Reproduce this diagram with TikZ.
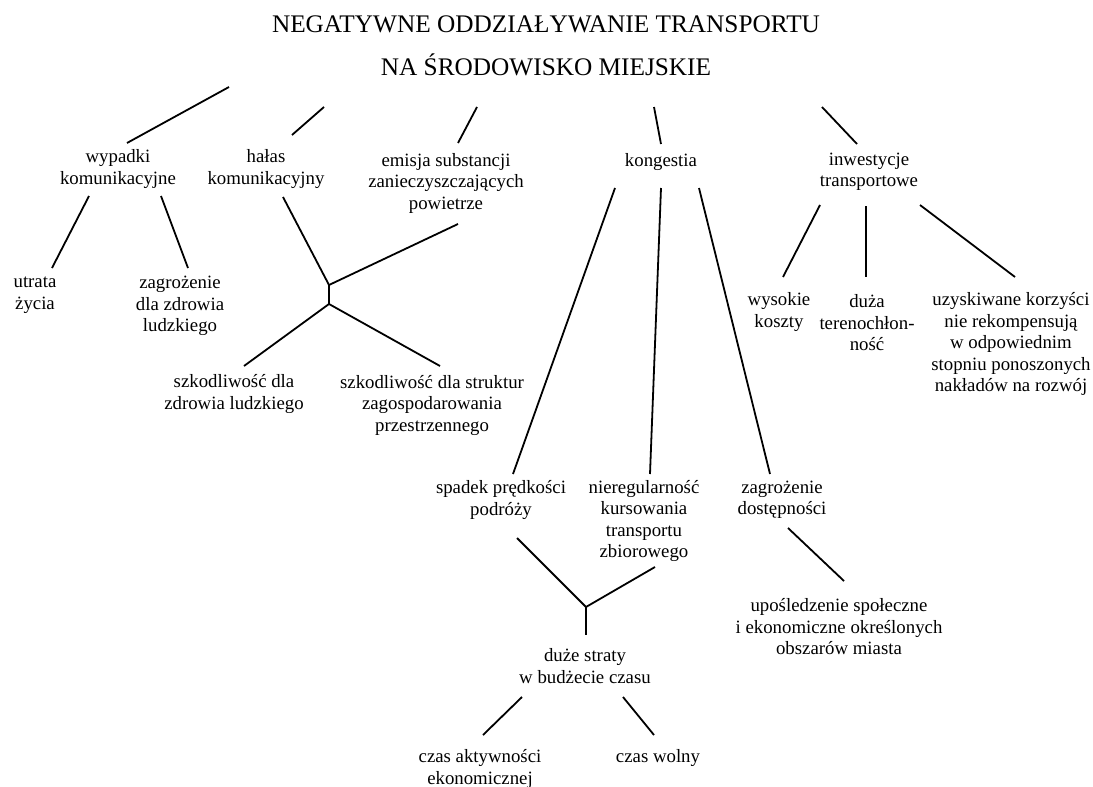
\documentclass[tikz,border=0pt]{standalone}
\usepackage{fontspec}
\setmainfont{Liberation Serif}

\begin{document}
\begin{tikzpicture}[x=1pt,y=-1pt,line width=1.8pt,
                    txt/.style={align=center,inner sep=0pt,
                                font=\fontsize{18.8}{21.5}\selectfont},
                    tytul/.style={align=center,inner sep=0pt,
                                  font=\fontsize{25.3}{43}\selectfont}]
  \useasboundingbox (0,0) rectangle (1093,787);

  \node[tytul] (tyt) at (546,46) {NEGATYWNE ODDZIAŁYWANIE TRANSPORTU\\NA ŚRODOWISKO MIEJSKIE};

  \node[txt] (wyp)  at (118,169) {wypadki\\komunikacyjne};
  \node[txt] (hal)  at (266,169) {hałas\\komunikacyjny};
  \node[txt] (emi)  at (446,183) {emisja substancji\\zanieczyszczających\\powietrze};
  \node[txt] (kon)  at (661,162) {kongestia};
  \node[txt] (inw)  at (869,172) {inwestycje\\transportowe};

  \node[txt] (utr)  at (35,295)  {utrata\\życia};
  \node[txt] (zag)  at (180,306) {zagrożenie\\dla zdrowia\\ludzkiego};
  \node[txt] (szk1) at (234,394) {szkodliwość dla\\zdrowia ludzkiego};
  \node[txt] (szk2) at (432,405) {szkodliwość dla struktur\\zagospodarowania\\przestrzennego};

  \node[txt] (wys)  at (779,312) {wysokie\\koszty};
  \node[txt] (duz)  at (867,323) {duża\\terenochłon-\\ność};
  \node[txt] (uzy)  at (1011,344) {uzyskiwane korzyści\\nie rekompensują\\w odpowiednim\\stopniu ponoszonych\\nakładów na rozwój};

  \node[txt] (spa)  at (501,500) {spadek prędkości\\podróży};
  \node[txt] (nie)  at (644,521) {nieregularność\\kursowania\\transportu\\zbiorowego};
  \node[txt] (dos)  at (782,500) {zagrożenie\\dostępności};
  \node[txt] (upo)  at (839,627) {upośledzenie społeczne\\i ekonomiczne określonych\\obszarów miasta};

  \node[txt] (dus)  at (585,666) {duże straty\\w budżecie czasu};
  \node[txt] (cza)  at (480,769) {czas aktywności\\ekonomicznej};
  \node[txt] (wol)  at (658,758) {czas wolny};

  \coordinate (j1a) at (329,285);
  \coordinate (j1b) at (329,304);
  \coordinate (j2a) at (586,607);

  % od tytulu
  \path ([shift={(-317,41)}]tyt.center) edge ([shift={(9,-26)}]wyp.center)
        ([shift={(-222,61)}]tyt.center) edge ([shift={(26,-34)}]hal.center)
        ([shift={(-69,61)}]tyt.center)  edge ([shift={(12,-40)}]emi.center)
        ([shift={(108,61)}]tyt.center)  edge ([shift={(0,-18)}]kon.center)
        ([shift={(276,61)}]tyt.center)  edge ([shift={(-12,-28)}]inw.center);

  \path ([shift={(-29,27)}]wyp.center) edge ([shift={(17,-27)}]utr.center)
        ([shift={(43,27)}]wyp.center)  edge ([shift={(8,-38)}]zag.center)
        ([shift={(17,28)}]hal.center)  edge (j1a)
        ([shift={(12,41)}]emi.center)  edge (j1a)
        (j1a) edge (j1b)
        (j1b) edge ([shift={(10,-28)}]szk1.center)
        (j1b) edge ([shift={(8,-39)}]szk2.center);

  \path ([shift={(-46,26)}]kon.center) edge ([shift={(12,-26)}]spa.center)
        ([shift={(0,26)}]kon.center)   edge ([shift={(6,-47)}]nie.center)
        ([shift={(38,26)}]kon.center)  edge ([shift={(-12,-26)}]dos.center)
        ([shift={(16,38)}]spa.center)  edge (j2a)
        ([shift={(11,46)}]nie.center)  edge (j2a)
        (j2a) edge ([shift={(1,-31)}]dus.center)
        ([shift={(6,28)}]dos.center)   edge ([shift={(5,-46)}]upo.center)
        ([shift={(-63,31)}]dus.center) edge ([shift={(3,-34)}]cza.center)
        ([shift={(38,31)}]dus.center)  edge ([shift={(-4,-23)}]wol.center);

  \path ([shift={(-49,33)}]inw.center) edge ([shift={(4,-35)}]wys.center)
        ([shift={(-3,34)}]inw.center)  edge ([shift={(-1,-46)}]duz.center)
        ([shift={(51,33)}]inw.center)  edge ([shift={(4,-67)}]uzy.center);
\end{tikzpicture}
\end{document}
